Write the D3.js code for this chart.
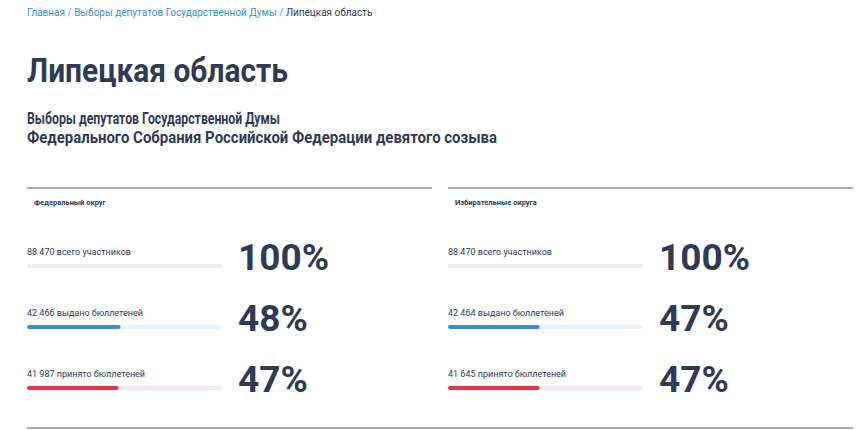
<!DOCTYPE html>
<html><head><meta charset="utf-8">
<script src="https://cdn.jsdelivr.net/npm/d3@7"></script>
<style>body{margin:0;background:#fff}</style>
</head><body><svg id="c" width="860" height="430"></svg>
<script>
// data
var panels = ["Федеральный округ", "Избирательные округа"];
var labels = ["всего участников", "выдано бюллетеней", "принято бюллетеней"];
var federal = [88470, 42466, 41987];
var districts = [88470, 42464, 41645];
var pctFederal = [100, 48, 47];
var pctDistricts = [100, 47, 47];
var barColors = ["#eeeeee", "#3a8fd0", "#e8334f"];
var trackColors = ["#eeeeee", "#e8f4f8", "#fbe6e9"];

var ink = "#313a55";
var svg = d3.select("#c");
var fmt = function(v){ return d3.format(",")(v).replace(/,/g, "\u00a0"); };

// breadcrumbs
var bc = svg.append("text").attr("x", 27).attr("y", 16).style("font", "10px Roboto");
bc.append("tspan").attr("fill", "#3a8fd0").text("Главная");
bc.append("tspan").attr("fill", "#888").text("  /  ");
bc.append("tspan").attr("fill", "#3a8fd0").text("Выборы депутатов Государственной Думы");
bc.append("tspan").attr("fill", "#888").text("  /  ");
bc.append("tspan").attr("fill", ink).text("Липецкая область");

svg.append("text").attr("x", 27).attr("y", 82).attr("fill", ink)
  .attr("textLength", 261).attr("lengthAdjust", "spacingAndGlyphs")
  .style("font", "bold 34px Roboto").text("Липецкая область");
svg.append("text").attr("x", 27).attr("y", 124).attr("fill", ink)
  .attr("textLength", 253).attr("lengthAdjust", "spacingAndGlyphs")
  .style("font", "bold 16px Roboto").text("Выборы депутатов Государственной Думы");
svg.append("text").attr("x", 27).attr("y", 143).attr("fill", ink)
  .attr("textLength", 470).attr("lengthAdjust", "spacingAndGlyphs")
  .style("font", "bold 16px Roboto").text("Федерального Собрания Российской Федерации девятого созыва");

svg.append("line").attr("x1", 27).attr("x2", 853).attr("y1", 428).attr("y2", 428)
  .attr("stroke", "#8a8d9c").attr("stroke-width", 1.5);

var x = d3.scaleLinear().domain([0, 100]).range([0, 195]);
var y = d3.scaleBand().domain([0, 1, 2]).range([236, 419]);

[[federal, pctFederal], [districts, pctDistricts]].forEach(function(d, pi){
  var g = svg.append("g").attr("transform", "translate(" + (27 + pi * 421) + ",0)");
  g.append("line").attr("x1", 0).attr("x2", 405).attr("y1", 188).attr("y2", 188)
    .attr("stroke", "#8a8d9c").attr("stroke-width", 1.5);
  g.append("text").attr("x", 7).attr("y", 205).attr("fill", ink)
    .style("font", "bold 7.5px Roboto").text(panels[pi]);
  var row = g.selectAll(".row").data(d[0]).join("g")
    .attr("transform", function(v, i){ return "translate(0," + y(i) + ")"; });
  row.append("text").attr("y", 19).attr("fill", ink).style("font", "9px Roboto")
    .text(function(v, i){ return fmt(v) + " " + labels[i]; });
  row.append("rect").attr("y", 28).attr("height", 4).attr("rx", 2)
    .attr("width", x(100)).attr("fill", function(v, i){ return trackColors[i]; });
  row.append("rect").attr("y", 28).attr("height", 4).attr("rx", 2)
    .attr("width", function(v, i){ return x(d[1][i]); })
    .attr("fill", function(v, i){ return barColors[i]; });
  row.append("text").attr("x", 211).attr("y", 34).attr("fill", ink)
    .style("font", "bold 37px Roboto").text(function(v, i){ return d[1][i] + "%"; });
});
</script></body></html>
